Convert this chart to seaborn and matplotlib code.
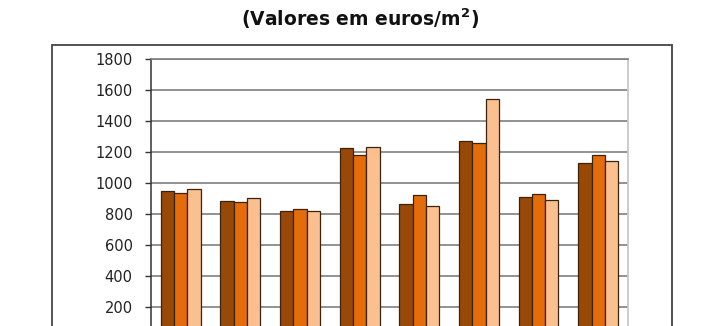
import matplotlib
matplotlib.use("Agg")
import matplotlib.pyplot as plt
import matplotlib.patches as patches
import seaborn as sns
import pandas as pd

# valores (euros/m2), 8 grupos x 3 séries
grupos = ["G1", "G2", "G3", "G4", "G5", "G6", "G7", "G8"]
series = ["Série 1", "Série 2", "Série 3"]
serie1 = [950, 885, 818, 1223, 864, 1270, 909, 1128]
serie2 = [935, 879, 833, 1180, 920, 1256, 926, 1178]
serie3 = [960, 905, 818, 1234, 849, 1542, 887, 1139]
cores = ["#984807", "#E46C0A", "#FAC090"]
yticks = [200, 400, 600, 800, 1000, 1200, 1400, 1600, 1800]

rows = []
for s, vals in zip(series, [serie1, serie2, serie3]):
    for g, v in zip(grupos, vals):
        rows.append({"Grupo": g, "Serie": s, "Valor": v})
df = pd.DataFrame(rows)

sns.set_style("white")
plt.rcParams['font.family'] = ['DejaVu Sans']

fig = plt.figure(figsize=(7.12, 3.26), dpi=100)
# moldura exterior do gráfico
fig.patches.append(patches.Rectangle((51.7/712, -0.1), (671.7-51.7)/712, 1.1 - 45/326,
                                     transform=fig.transFigure, fill=False,
                                     edgecolor="#444444", linewidth=1.3))
ax = fig.add_axes([150.7/712, -0.0359, 477.3/712, 0.855])

sns.barplot(data=df, x="Grupo", y="Valor", hue="Serie", palette=cores,
            saturation=1, width=0.67, edgecolor="#3a2410", linewidth=0.9,
            ax=ax, legend=False, zorder=3)

ax.set_ylim(0, 1800)
ax.set_yticks(yticks)
ax.set_xlim(-0.5, 7.5)
ax.yaxis.grid(True, color="#7f7f7f", linewidth=1.2, zorder=0)
ax.set_axisbelow(True)
ax.tick_params(axis="y", length=4.5, width=1, color="#333333", pad=8.5,
               labelsize=10.5, labelcolor="#222222", direction="out", left=True)
ax.tick_params(axis="x", length=0, labelbottom=False)
ax.set_xlabel("")
ax.set_ylabel("")
ax.spines["left"].set_color("#333333")
ax.spines["left"].set_linewidth(1.1)
ax.spines["right"].set_color("#c8c8c8")
ax.spines["right"].set_linewidth(1.3)
ax.spines["top"].set_color("#7f7f7f")
ax.spines["top"].set_linewidth(1.2)
ax.spines["bottom"].set_visible(False)

fig.text(360/712, 1 - 19/326, "(Valores em euros/m$^\\mathbf{2}$)", ha="center", va="center",
         fontsize=13.5, fontweight="bold", color="#111111")

fig.savefig("out.png", dpi=100)
